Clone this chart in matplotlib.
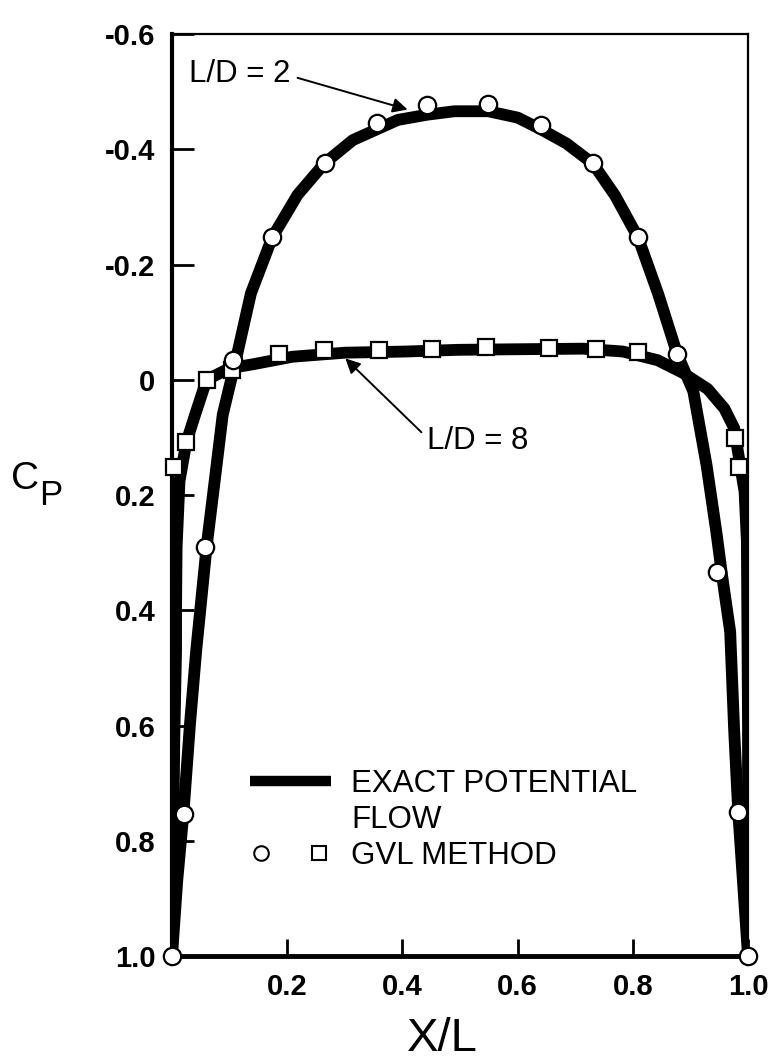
import matplotlib
matplotlib.use("Agg")
import matplotlib.pyplot as plt
from matplotlib.lines import Line2D
from matplotlib.legend_handler import HandlerTuple

plt.rcParams['font.family'] = ['Liberation Sans', 'DejaVu Sans']

# Exact potential flow, L/D = 2
exact2_x = [0.0, 0.009, 0.020, 0.031, 0.042, 0.051, 0.060, 0.074, 0.088, 0.111, 0.137, 0.174,
            0.218, 0.265, 0.314, 0.392, 0.443, 0.490, 0.549, 0.600, 0.640, 0.685, 0.731, 0.769,
            0.809, 0.844, 0.877, 0.905, 0.928, 0.945, 0.955, 0.969, 0.976, 0.983, 1.0]
exact2_cp = [1.0, 0.87, 0.75, 0.60, 0.47, 0.38, 0.29, 0.176, 0.061, -0.035, -0.150, -0.247,
             -0.321, -0.376, -0.416, -0.451, -0.460, -0.466, -0.466, -0.455, -0.435, -0.410, -0.375, -0.320,
             -0.247, -0.149, -0.045, 0.02, 0.148, 0.264, 0.34, 0.437, 0.61, 0.75, 1.0]

# Exact potential flow, L/D = 8
exact8_x = [0.0, 0.004, 0.007, 0.007, 0.008, 0.013, 0.025, 0.040, 0.060, 0.100, 0.141, 0.209,
            0.300, 0.404, 0.497, 0.600, 0.714, 0.783, 0.843, 0.887, 0.930, 0.959, 0.976, 0.985,
            0.994, 0.998, 1.0, 1.0]
exact8_cp = [1.0, 0.62, 0.47, 0.40, 0.29, 0.176, 0.108, 0.061, 0.0, -0.020, -0.027, -0.040,
             -0.047, -0.049, -0.052, -0.053, -0.054, -0.049, -0.034, -0.012, 0.016, 0.050, 0.084, 0.14,
             0.194, 0.28, 0.60, 1.0]

# GVL method, L/D = 2 (circles)
gvl2_x = [0.0, 0.021, 0.058, 0.106, 0.174, 0.265, 0.356, 0.443, 0.549, 0.640, 0.731, 0.809,
          0.877, 0.947, 0.982, 1.0]
gvl2_cp = [1.0, 0.753, 0.291, -0.035, -0.247, -0.376, -0.445, -0.477, -0.479, -0.443, -0.377, -0.247,
           -0.045, 0.333, 0.750, 1.0]

# GVL method, L/D = 8 (squares)
gvl8_x = [0.003, 0.025, 0.060, 0.105, 0.185, 0.264, 0.359, 0.452, 0.545, 0.654, 0.736, 0.809,
          0.977, 0.985]
gvl8_cp = [0.151, 0.108, 0.0, -0.017, -0.044, -0.052, -0.051, -0.054, -0.057, -0.055, -0.054, -0.049,
           0.101, 0.151]

xticks = [0.2, 0.4, 0.6, 0.8, 1.0]
xticklabels = ["0.2", "0.4", "0.6", "0.8", "1.0"]
yticks = [-0.6, -0.4, -0.2, 0.0, 0.2, 0.4, 0.6, 0.8, 1.0]
yticklabels = ["-0.6", "-0.4", "-0.2", "0", "0.2", "0.4", "0.6", "0.8", "1.0"]

fig = plt.figure(figsize=(7.71, 10.64), dpi=100)
ax = fig.add_axes([0.2231, 0.1015, 0.7471, 0.8665])

lw = 8.5
ax.plot(exact8_x, exact8_cp, color='black', lw=lw, solid_capstyle='butt', solid_joinstyle='round', zorder=2)
ax.plot(exact2_x, exact2_cp, color='black', lw=lw, solid_capstyle='butt', solid_joinstyle='round', zorder=2)

ax.plot(gvl8_x, gvl8_cp, linestyle='none', marker='s', markersize=11.5, markerfacecolor='white',
        markeredgecolor='black', markeredgewidth=1.6, zorder=4, clip_on=False)
ax.plot(gvl2_x, gvl2_cp, linestyle='none', marker='o', markersize=12.5, markerfacecolor='white',
        markeredgecolor='black', markeredgewidth=1.6, zorder=5, clip_on=False)

ax.set_xlim(0.0, 1.0)
ax.set_ylim(1.0, -0.6)

ax.set_xticks(xticks)
ax.set_xticklabels(xticklabels)
ax.set_yticks(yticks)
ax.set_yticklabels(yticklabels)
ax.tick_params(axis='both', direction='in', width=2, colors='black', labelsize=21)
ax.tick_params(axis='y', length=16, pad=12)
ax.tick_params(axis='x', length=12, pad=12)
for lab in ax.get_xticklabels() + ax.get_yticklabels():
    lab.set_fontweight('bold')

ax.spines['left'].set_linewidth(3)
ax.spines['bottom'].set_linewidth(3.5)
ax.spines['top'].set_linewidth(1.6)
ax.spines['right'].set_linewidth(1.6)

ax.set_xlabel("X/L", fontsize=34)
ax.xaxis.set_label_coords(0.47, -0.066)

fig.text(0.0324, 0.5498, "C", fontsize=28, ha='center', va='center')
fig.text(0.0660, 0.5340, "P", fontsize=25, ha='center', va='center')

arrow_kw = dict(arrowstyle='-|>', lw=1.4, color='black', mutation_scale=22, shrinkA=3, shrinkB=0)
ax.annotate("L/D = 2", xy=(0.409, -0.469), xytext=(0.030, -0.530), fontsize=22.5,
            ha='left', va='center', arrowprops=dict(relpos=(1.0, 0.45), **arrow_kw))
ax.annotate("L/D = 8", xy=(0.301, -0.037), xytext=(0.443, 0.106), fontsize=22.5,
            ha='left', va='center', arrowprops=dict(relpos=(0.0, 0.6), **arrow_kw))

h_line = Line2D([], [], color='black', lw=7.5, solid_capstyle='butt')
h_blank = Line2D([], [], linestyle='none')
h_circ = Line2D([], [], linestyle='none', marker='o', markersize=10.5, markerfacecolor='white',
                markeredgecolor='black', markeredgewidth=1.5)
h_sq = Line2D([], [], linestyle='none', marker='s', markersize=10, markerfacecolor='white',
              markeredgecolor='black', markeredgewidth=1.5)
leg = ax.legend([h_line, h_blank, (h_circ, h_sq)],
                ["EXACT POTENTIAL", "FLOW", "GVL METHOD"],
                handler_map={tuple: HandlerTuple(ndivide=None, pad=1.1)},
                loc='upper left', bbox_to_anchor=(0.135, 0.203), frameon=False,
                fontsize=22.5, handlelength=2.6, handletextpad=0.64, labelspacing=0.2,
                borderpad=0.0, borderaxespad=0.0)

fig.savefig("out.png", dpi=100)
